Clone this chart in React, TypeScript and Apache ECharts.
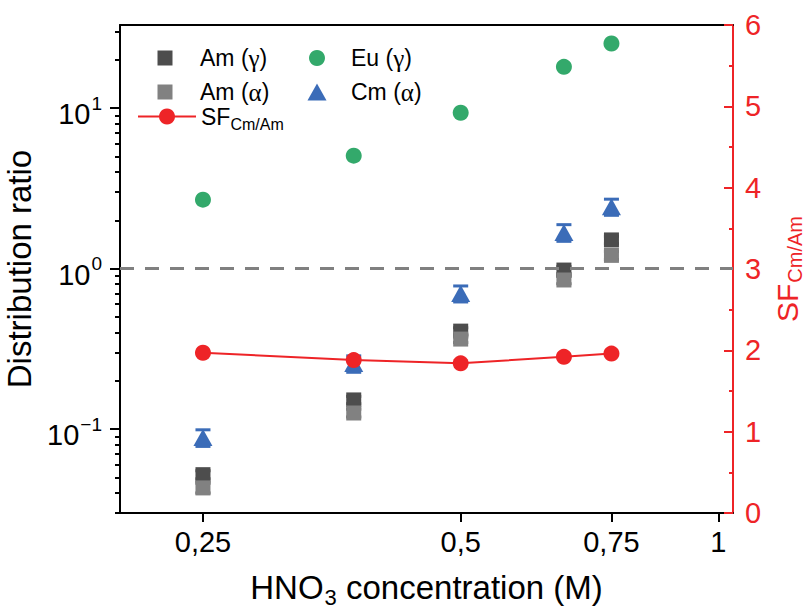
import React, { useEffect, useRef } from "react";
import * as echarts from "echarts";

// ---- data ----
const concentrations = [0.25, 0.375, 0.5, 0.66, 0.75];
const amGamma = [0.052, 0.152, 0.408, 0.98, 1.51];
const amGammaErr = [0.003, 0.008, 0.02, 0.05, 0.08];
const amAlpha = [0.043, 0.126, 0.364, 0.85, 1.21];
const amAlphaErr = [0.003, 0.007, 0.018, 0.045, 0.07];
const euGamma = [2.69, 5.06, 9.37, 18.1, 25.3];
const cmAlpha = [0.0885, 0.256, 0.7, 1.68, 2.43];
const cmAlphaErr = [0.0105, 0.03, 0.08, 0.2, 0.28];
const sfCmAm = [1.97, 1.88, 1.84, 1.92, 1.96];

const xTickValues = [0.25, 0.5, 0.75, 1];
const yMajorTicks = [0.1, 1, 10];
const yMinorTicks = [
  0.03, 0.04, 0.05, 0.06, 0.07, 0.08, 0.09,
  0.2, 0.3, 0.4, 0.5, 0.6, 0.7, 0.8, 0.9,
  2, 3, 4, 5, 6, 7, 8, 9, 20, 30,
];
const referenceLevel = 1;

const FONT = "Liberation Sans";
const SERIF = "Liberation Serif";
const RED = "#ee2427";
const DARK = "#4d4d4d";
const LIGHT = "#818181";
const GREEN = "#33a96b";
const BLUE = "#3b6cb8";

function errorSeries(name: string, values: number[], errs: number[], color: string, cap: number, z: number) {
  return {
    name,
    type: "custom",
    xAxisIndex: 0,
    yAxisIndex: 0,
    z,
    silent: true,
    encode: { x: 0, y: [1, 2] },
    data: concentrations.map((c, i) => [c, values[i] - errs[i], values[i] + errs[i]]),
    renderItem: (params: any, api: any) => {
      const x = api.value(0);
      const lo = api.coord([x, api.value(1)]);
      const hi = api.coord([x, api.value(2)]);
      const hw = cap / 2;
      return {
        type: "group",
        children: [
          { type: "line", shape: { x1: lo[0], y1: lo[1], x2: hi[0], y2: hi[1] }, style: { stroke: color, lineWidth: 2 } },
          { type: "line", shape: { x1: lo[0] - hw, y1: lo[1], x2: lo[0] + hw, y2: lo[1] }, style: { stroke: color, lineWidth: 3 } },
          { type: "line", shape: { x1: hi[0] - hw, y1: hi[1], x2: hi[0] + hw, y2: hi[1] }, style: { stroke: color, lineWidth: 3 } },
        ],
      };
    },
  };
}

const legendRich = {
  t: { fontSize: 23, fontFamily: FONT, color: "#000" },
  g: { fontSize: 25, fontFamily: SERIF, color: "#000" },
};

function scatterLegend(name: string, cx: number, cy: number, w: number, h: number, textX: number) {
  return {
    data: [name],
    orient: "vertical",
    left: cx - w / 2,
    top: cy - 14,
    itemWidth: w,
    itemHeight: h,
    selectedMode: false,
    formatter: (n: string) => {
      const m = n.match(/^(.*\()(.)(\))$/);
      return m ? "{t|" + m[1] + "}{g|" + m[2] + "}{t|" + m[3] + "}" : n;
    },
    textStyle: {
      color: "#000",
      fontSize: 23,
      fontFamily: FONT,
      lineHeight: 28,
      padding: [0, 0, 0, textX - (cx + w / 2) - 5],
      rich: legendRich,
    },
  };
}

export default function App() {
  const ref = useRef<HTMLDivElement>(null);
  useEffect(() => {
    if (!ref.current) return;
    const chart = echarts.init(ref.current, null, { renderer: "svg" });
    const pairs = (vals: number[]) => concentrations.map((c, i) => [c, vals[i]]);
    const titleRich = {
      m: { fontSize: 33, fontFamily: FONT, verticalAlign: "top", lineHeight: 33 },
      s: { fontSize: 22, fontFamily: FONT, verticalAlign: "top", lineHeight: 22, padding: [15, 0, 0, 1] },
    };
    const option: any = {
      animation: false,
      backgroundColor: "#ffffff",
      grid: { left: 120, right: 72, top: 25, bottom: 98, containLabel: false, outerBoundsMode: "none" },
      xAxis: [
        {
          type: "log",
          logBase: 10,
          min: 0.2,
          max: 1.04,
          position: "bottom",
          name: "{m|HNO}{s|3}{m| concentration (M)}",
          nameLocation: "middle",
          nameGap: 58,
          nameTextStyle: { color: "#000", fontSize: 33, fontFamily: FONT, rich: titleRich },
          axisLine: { show: true, lineStyle: { color: "#000", width: 2 } },
          axisTick: { show: true, inside: false, length: 9, lineStyle: { color: "#000", width: 2 }, customValues: xTickValues },
          axisLabel: {
            show: true,
            color: "#000",
            fontSize: 29,
            fontFamily: FONT,
            margin: 14,
            customValues: xTickValues,
            formatter: (v: number) => String(Math.round(v * 100) / 100).replace(".", ","),
          },
          splitLine: { show: false },
          minorTick: { show: false },
        },
        {
          type: "value",
          position: "top",
          min: 0,
          max: 1,
          axisLine: { show: true, lineStyle: { color: "#000", width: 2 } },
          axisTick: { show: false },
          axisLabel: { show: false },
          splitLine: { show: false },
        },
      ],
      yAxis: [
        {
          type: "log",
          logBase: 10,
          min: 0.03,
          max: 33,
          position: "left",
          name: "Distribution ratio",
          nameLocation: "middle",
          nameGap: 74,
          nameRotate: 90,
          nameTextStyle: { color: "#000", fontSize: 33, fontFamily: FONT },
          axisLine: { show: true, lineStyle: { color: "#000", width: 2 } },
          axisTick: { show: true, inside: false, length: 10, lineStyle: { color: "#000", width: 2 }, customValues: yMajorTicks },
          axisLabel: {
            show: true,
            margin: 18,
            color: "#000",
            customValues: yMajorTicks,
            formatter: (v: number) => {
              const e = Math.round(Math.log10(v));
              return "{b|10}{p|" + (e < 0 ? "\u2212" + -e : String(e)) + "}";
            },
            rich: {
              b: { fontSize: 29, fontFamily: FONT, color: "#000", verticalAlign: "top", lineHeight: 29, padding: [6, 0, 0, 0] },
              p: { fontSize: 19, fontFamily: FONT, color: "#000", verticalAlign: "top", lineHeight: 19, padding: [0, 0, 0, 1] },
            },
          },
          splitLine: { show: false },
        },
        {
          type: "log",
          logBase: 10,
          min: 0.03,
          max: 33,
          position: "left",
          axisLine: { show: false },
          axisTick: { show: true, inside: false, length: 5, lineStyle: { color: "#000", width: 2 }, customValues: yMinorTicks },
          axisLabel: { show: false },
          splitLine: { show: false },
        },
        {
          type: "value",
          min: 0,
          max: 6,
          interval: 1,
          position: "right",
          name: "{m|SF}{s|Cm/Am}",
          nameLocation: "middle",
          nameGap: 34,
          nameRotate: 90,
          nameTextStyle: {
            color: RED,
            fontSize: 30,
            fontFamily: FONT,
            rich: {
              m: { fontSize: 30, fontFamily: FONT, verticalAlign: "top", lineHeight: 30, color: RED },
              s: { fontSize: 20, fontFamily: FONT, verticalAlign: "top", lineHeight: 20, padding: [13, 0, 0, 1], color: RED },
            },
          },
          axisLine: { show: true, lineStyle: { color: RED, width: 2 } },
          axisTick: { show: true, inside: true, length: 9, lineStyle: { color: RED, width: 2 } },
          minorTick: { show: true, splitNumber: 2, length: 4, lineStyle: { color: RED, width: 2 } },
          axisLabel: { show: true, color: RED, fontSize: 29, fontFamily: FONT, margin: 12 },
          splitLine: { show: false },
          minorSplitLine: { show: false },
        },
      ],
      legend: [
        scatterLegend("Am (\u03b3)", 160, 53, 15, 15, 195),
        scatterLegend("Am (\u03b1)", 160, 87, 15, 15, 195),
        scatterLegend("Eu (\u03b3)", 312, 53, 16, 16, 346),
        scatterLegend("Cm (\u03b1)", 312, 87, 19, 17, 346),
        {
          data: ["SF"],
          orient: "vertical",
          left: 132,
          top: 100,
          itemWidth: 58,
          itemHeight: 20,
          selectedMode: false,
          formatter: () => "{m|SF}{s|Cm/Am}",
          textStyle: {
            color: "#000",
            fontSize: 23,
            fontFamily: FONT,
            rich: {
              m: { fontSize: 23, fontFamily: FONT, color: "#000", verticalAlign: "top", lineHeight: 23 },
              s: { fontSize: 16, fontFamily: FONT, color: "#000", verticalAlign: "top", lineHeight: 16, padding: [11, 0, 0, 0] },
            },
          },
        },
      ],
      series: [
        errorSeries("errAmG", amGamma, amGammaErr, DARK, 15, 1),
        errorSeries("errAmA", amAlpha, amAlphaErr, DARK, 15, 1),
        errorSeries("errCm", cmAlpha, cmAlphaErr, BLUE, 15, 1),
        {
          name: "Am (\u03b3)",
          type: "scatter",
          xAxisIndex: 0,
          yAxisIndex: 0,
          symbol: "rect",
          symbolSize: 15,
          z: 3,
          itemStyle: { color: DARK, opacity: 1 },
          data: pairs(amGamma),
          markLine: {
            silent: true,
            symbol: ["none", "none"],
            label: { show: false },
            lineStyle: { color: "#808080", type: [14, 11], width: 3 },
            data: [{ yAxis: referenceLevel }],
          },
        },
        {
          name: "Am (\u03b1)",
          type: "scatter",
          xAxisIndex: 0,
          yAxisIndex: 0,
          symbol: "rect",
          symbolSize: 15,
          z: 4,
          itemStyle: { color: LIGHT, opacity: 1 },
          data: pairs(amAlpha),
        },
        {
          name: "Eu (\u03b3)",
          type: "scatter",
          xAxisIndex: 0,
          yAxisIndex: 0,
          symbol: "circle",
          symbolSize: 16,
          z: 4,
          itemStyle: { color: GREEN, opacity: 1 },
          data: pairs(euGamma),
        },
        {
          name: "Cm (\u03b1)",
          type: "scatter",
          xAxisIndex: 0,
          yAxisIndex: 0,
          symbol: "triangle",
          symbolSize: [19, 17],
          z: 4,
          itemStyle: { color: BLUE, opacity: 1 },
          data: pairs(cmAlpha),
        },
        {
          name: "SF",
          type: "line",
          xAxisIndex: 0,
          yAxisIndex: 2,
          symbol: "circle",
          symbolSize: 16,
          z: 5,
          itemStyle: { color: RED, opacity: 1 },
          lineStyle: { color: RED, width: 2 },
          data: pairs(sfCmAm),
        },
      ],
    };
    chart.setOption(option);
    return () => chart.dispose();
  }, []);
  return (
    <div
      ref={ref}
      style={{ position: "fixed", left: 0, top: 0, width: 805, height: 611, background: "#fff" }}
    />
  );
}
